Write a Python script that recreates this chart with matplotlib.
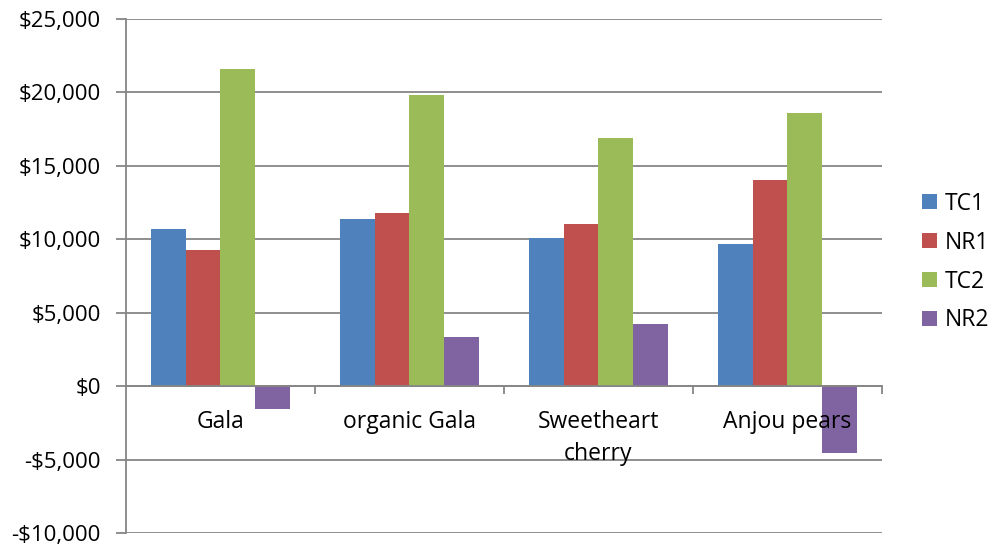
import matplotlib
matplotlib.use("Agg")
import matplotlib.pyplot as plt
from matplotlib.ticker import FuncFormatter, FixedLocator
import numpy as np

categories = ["Gala", "organic Gala", "Sweetheart\ncherry", "Anjou pears"]
series = ["TC1", "NR1", "TC2", "NR2"]
tc1 = [10700, 11400, 10100, 9700]
nr1 = [9300, 11800, 11050, 14050]
tc2 = [21600, 19850, 16900, 18600]
nr2 = [-1550, 3350, 4250, -4550]
colors = ["#4F81BD", "#C0504D", "#9BBB59", "#8064A2"]

plt.rcParams['font.family'] = ['Open Sans', 'DejaVu Sans']

fig = plt.figure(figsize=(9.89, 5.46), dpi=100)
ax = fig.add_axes([0.1274, 0.0238, 0.7644, 0.9414])

x = np.arange(len(categories))
w = 0.183
for i, (name, vals) in enumerate(zip(series, [tc1, nr1, tc2, nr2])):
    ax.bar(x + (i - 1.5) * w, vals, w, color=colors[i], label=name, zorder=2)

ax.set_xlim(-0.5, 3.5)
ax.set_ylim(-10000, 25000)
ax.yaxis.set_major_locator(FixedLocator(range(-10000, 25001, 5000)))

def money(v, pos):
    v = int(round(v))
    if v < 0:
        return "-${:,}".format(-v)
    return "${:,}".format(v)

ax.yaxis.set_major_formatter(FuncFormatter(money))
ax.grid(axis='y', color='#868686', linewidth=1.3, zorder=0)
ax.tick_params(axis='y', length=7, width=1.3, color='#868686', labelsize=16, pad=11)

# category axis sits on zero
ax.spines['bottom'].set_position(('data', 0))
ax.spines['bottom'].set_color('#868686')
ax.spines['bottom'].set_linewidth(1.3)
ax.spines['left'].set_color('#868686')
ax.spines['left'].set_linewidth(1.3)
ax.spines['top'].set_visible(False)
ax.spines['right'].set_visible(False)

ax.set_xticks([0.5, 1.5, 2.5, 3.5])
ax.set_xticklabels([])
ax.tick_params(axis='x', which='major', length=6, width=1.3, color='#868686', direction='out')
ax.set_xticks(x, minor=True)
ax.set_xticklabels(categories, minor=True, fontsize=16.5)
ax.tick_params(axis='x', which='minor', length=0, pad=17)
for lab in ax.get_xticklabels(minor=True):
    lab.set_linespacing(1.45)
ax.xaxis.set_zorder(4)

fig.legend(loc='center left', bbox_to_anchor=(922 / 989, 0.52), frameon=False,
           fontsize=16.5, handlelength=0.64, handleheight=0.64, handletextpad=0.35,
           labelspacing=0.65, borderpad=0, borderaxespad=0)

fig.savefig("out.png", dpi=100)
